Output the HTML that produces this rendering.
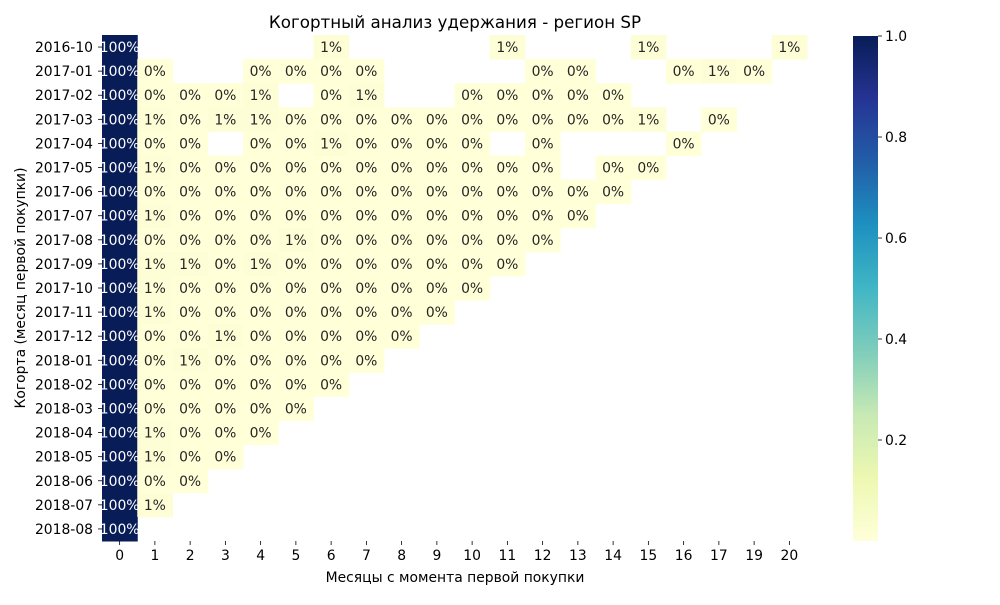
<!DOCTYPE html>
<html><head><meta charset="utf-8"><style>
html,body{margin:0;padding:0;background:#fff;}
svg text{font-family:"DejaVu Sans","Liberation Sans",sans-serif;}
</style></head><body>
<svg id="chart" width="1000" height="600" xmlns="http://www.w3.org/2000/svg">
<defs>
<linearGradient id="cbar" x1="0" y1="1" x2="0" y2="0">
<stop offset="0" stop-color="#ffffd9"/><stop offset="0.125" stop-color="#edf8b1"/><stop offset="0.25" stop-color="#c7e9b4"/><stop offset="0.375" stop-color="#7fcdbb"/><stop offset="0.5" stop-color="#41b6c4"/><stop offset="0.625" stop-color="#1d91c0"/><stop offset="0.75" stop-color="#225ea8"/><stop offset="0.875" stop-color="#253494"/><stop offset="1" stop-color="#081d58"/>
</linearGradient>
</defs>
<text x="455" y="28" font-size="16.7" text-anchor="middle">Когортный анализ удержания - регион SP</text>
<g id="cells"></g>
<g id="yticks"></g>
<g id="xticks"></g>
<text x="455" y="582" font-size="13.9" text-anchor="middle">Месяцы с момента первой покупки</text>
<text x="0" y="0" font-size="13.9" text-anchor="middle" transform="translate(25,288) rotate(-90)">Когорта (месяц первой покупки)</text>
<rect x="853" y="36" width="25" height="505" fill="url(#cbar)"/>
<g id="cbticks"></g>
</svg>
<script>
const cohorts=["2016-10","2017-01","2017-02","2017-03","2017-04","2017-05","2017-06","2017-07","2017-08","2017-09","2017-10","2017-11","2017-12","2018-01","2018-02","2018-03","2018-04","2018-05","2018-06","2018-07","2018-08"];
const months=[0,1,2,3,4,5,6,7,8,9,10,11,12,13,14,15,16,17,19,20];
const n=null, a=0.003, b=0.01;
const retention=[
[1,n,n,n,n,n,b,n,n,n,n,b,n,n,n,b,n,n,n,b],
[1,a,n,n,a,a,a,a,n,n,n,n,a,a,n,n,a,b,a,n],
[1,a,a,a,b,n,a,b,n,n,a,a,a,a,a,n,n,n,n,n],
[1,b,a,b,b,a,a,a,a,a,a,a,a,a,a,b,n,a,n,n],
[1,a,a,n,a,a,b,a,a,a,a,n,a,n,n,n,a,n,n,n],
[1,b,a,a,a,a,a,a,a,a,a,a,a,n,a,a,n,n,n,n],
[1,a,a,a,a,a,a,a,a,a,a,a,a,a,a,n,n,n,n,n],
[1,b,a,a,a,a,a,a,a,a,a,a,a,a,n,n,n,n,n,n],
[1,a,a,a,a,b,a,a,a,a,a,a,a,n,n,n,n,n,n,n],
[1,b,b,a,b,a,a,a,a,a,a,a,n,n,n,n,n,n,n,n],
[1,b,a,a,a,a,a,a,a,a,a,n,n,n,n,n,n,n,n,n],
[1,b,a,a,a,a,a,a,a,a,n,n,n,n,n,n,n,n,n,n],
[1,a,a,b,a,a,a,a,a,n,n,n,n,n,n,n,n,n,n,n],
[1,a,b,a,a,a,a,a,n,n,n,n,n,n,n,n,n,n,n,n],
[1,a,a,a,a,a,a,n,n,n,n,n,n,n,n,n,n,n,n,n],
[1,a,a,a,a,a,n,n,n,n,n,n,n,n,n,n,n,n,n,n],
[1,b,a,a,a,n,n,n,n,n,n,n,n,n,n,n,n,n,n,n],
[1,b,a,a,n,n,n,n,n,n,n,n,n,n,n,n,n,n,n,n],
[1,a,a,n,n,n,n,n,n,n,n,n,n,n,n,n,n,n,n,n],
[1,b,n,n,n,n,n,n,n,n,n,n,n,n,n,n,n,n,n,n],
[1,n,n,n,n,n,n,n,n,n,n,n,n,n,n,n,n,n,n,n]];
const cbTicks=[0.2,0.4,0.6,0.8,1.0];

const NS="http://www.w3.org/2000/svg";
const X0=102,X1=807,Y0=35,Y1=541;
const cw=(X1-X0)/months.length, ch=(Y1-Y0)/cohorts.length;
const xPos=i=>X0+i*cw, yPos=j=>Y0+j*ch;
const stops=[[0,[255,255,217]],[0.125,[237,248,177]],[0.25,[199,233,180]],[0.375,[127,205,187]],[0.5,[65,182,196]],[0.625,[29,145,192]],[0.75,[34,94,168]],[0.875,[37,52,148]],[1,[8,29,88]]];
function color(v){v=Math.max(0,Math.min(1,v));for(let i=1;i<stops.length;i++){if(v<=stops[i][0]){const t=(v-stops[i-1][0])/(stops[i][0]-stops[i-1][0]);const c=stops[i-1][1].map((x,k)=>Math.round(x+(stops[i][1][k]-x)*t));return `rgb(${c})`;}}return "rgb(8,29,88)";}
function mk(tag,attrs,parent){const e=document.createElementNS(NS,tag);for(const k in attrs)e.setAttribute(k,attrs[k]);parent.appendChild(e);return e;}
const cells=document.getElementById('cells');
retention.forEach((row,j)=>row.forEach((v,i)=>{
 if(v===null)return;
 const r=mk('rect',{x:xPos(i),y:yPos(j),width:cw+0.5,height:ch+0.5,fill:color(v)},cells);
 
 
 const t=mk('text',{x:xPos(i)+cw/2,y:yPos(j)+ch/2+5,'font-size':13.9,'text-anchor':'middle',fill:v>0.5?'#fff':'#262626'},cells);
 t.textContent=Math.round(v*100)+'%';
 
 
}));
const yt=document.getElementById('yticks');
cohorts.forEach((c,j)=>{
 const y=yPos(j)+ch/2;
 mk('line',{x1:X0-4,x2:X0,y1:y,y2:y,stroke:'#000','stroke-width':0.8},yt);
 const t=mk('text',{x:X0-9,y:y+5,'font-size':13.9,'text-anchor':'end'},yt);
 t.textContent=c;
 
 
});
const xt=document.getElementById('xticks');
months.forEach((m,i)=>{
 const x=xPos(i)+cw/2;
 mk('line',{x1:x,x2:x,y1:Y1,y2:Y1+4,stroke:'#000','stroke-width':0.8},xt);
 const t=mk('text',{x:x,y:Y1+19,'font-size':13.9,'text-anchor':'middle'},xt);
 t.textContent=m;
 
 
});
const cb=document.getElementById('cbticks');
cbTicks.forEach(v=>{
 const y=541-v*505;
 mk('line',{x1:878,x2:882,y1:y,y2:y,stroke:'#000','stroke-width':0.8},cb);
 const t=mk('text',{x:885,y:y+5,'font-size':13.9},cb);
 t.textContent=v.toFixed(1);
 
 
});
</script>
</body></html>
